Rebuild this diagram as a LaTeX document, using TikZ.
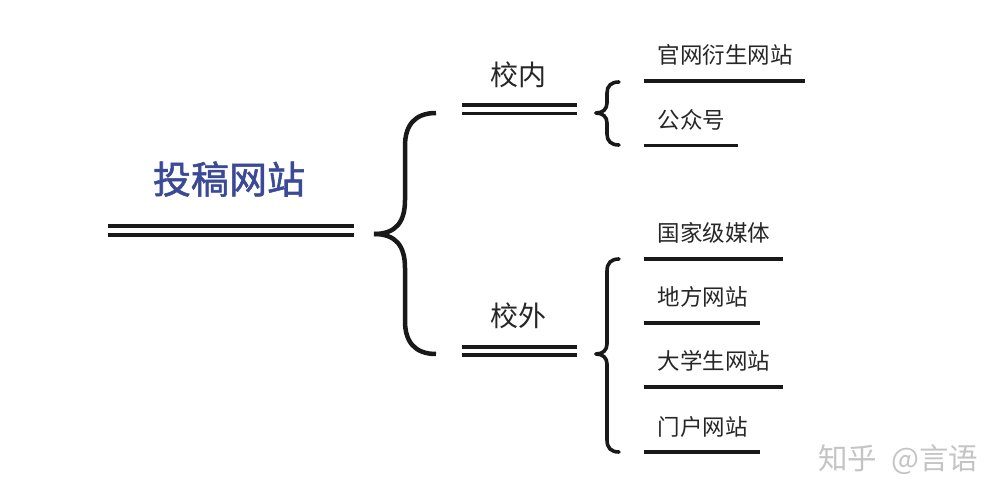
\documentclass[tikz,border=0pt]{standalone}
\usepackage{fontspec}
\setmainfont{Noto Sans CJK SC}
\newfontfamily\titlefont[FakeBold=1.4]{Noto Sans CJK SC}
\definecolor{titleblue}{HTML}{3A4A96}
\definecolor{markgray}{HTML}{C4C4C4}
\tikzset{
	leaftext/.style={anchor=west,inner sep=0pt,text=black!85,font=\fontsize{22.5}{24}\selectfont},
	midtext/.style={inner sep=0pt,text=black!85,font=\fontsize{28}{30}\selectfont},
	rulethick/.style={line width=3.2pt,black!90},
	bracethick/.style={line width=3.6pt,black!90,line cap=round},
}
\begin{document}
\begin{tikzpicture}[x=1pt,y=-1pt]
	\useasboundingbox (0,0) rectangle (999,500);
	% title
	\node[inner sep=0pt,text=titleblue,font=\fontsize{38}{40}\titlefont] (title) at (229,179) {投稿网站};
	\draw[line width=4pt,black!90] (108,225.5) -- (354,225.5);
	\draw[line width=4pt,black!90] (108,235) -- (354,235);
	% big brace
	\coordinate (bigtip) at (374,234);
	\coordinate (bigtop) at (436,113);
	\coordinate (bigbot) at (436,354);
	\draw[line width=4.5pt,black!90] (bigtop) .. controls (415,113) and (405,125) .. (405,146)
		-- (405,200) .. controls (405,222) and (396,234) .. (bigtip);
	\draw[line width=4.5pt,black!90] (bigbot) .. controls (415,354) and (405,342) .. (405,321)
		-- (405,268) .. controls (405,246) and (396,234) .. (bigtip);
	% upper branch
	\node[midtext] (inner) at (518.5,75) {校内};
	\draw[rulethick] (462,105) -- (577,105);
	\draw[rulethick] (462,113.5) -- (577,113.5);
	\coordinate (uptip) at (596,113);
	\coordinate (uptop) at (619,82);
	\coordinate (upbot) at (619,145);
	\draw[bracethick] (uptop) .. controls (611,82) and (607,86) .. (607,93)
		-- (607,103) .. controls (607,109) and (603,113) .. (uptip);
	\draw[bracethick] (upbot) .. controls (611,145) and (607,141) .. (607,134)
		-- (607,123) .. controls (607,117) and (603,113) .. (uptip);
	% lower branch
	\node[midtext] (outer) at (518.5,316) {校外};
	\draw[rulethick] (462,347) -- (577,347);
	\draw[rulethick] (462,355) -- (577,355);
	\coordinate (lowtip) at (596,354);
	\coordinate (lowtop) at (619,259);
	\coordinate (lowbot) at (619,452);
	\draw[bracethick] (lowtop) .. controls (611,259) and (607,263) .. (607,271)
		-- (607,344) .. controls (607,350) and (603,354) .. (lowtip);
	\draw[bracethick] (lowbot) .. controls (611,452) and (607,448) .. (607,440)
		-- (607,364) .. controls (607,358) and (603,354) .. (lowtip);
	% leaves
	\node[leaftext] (site) at (657.5,55) {官网衍生网站};
	\draw[rulethick] (644,81) -- (805,81);
	\node[leaftext] (wechat) at (657.5,120) {公众号};
	\draw[rulethick] (644,145.5) -- (738,145.5);
	\node[leaftext] (national) at (657.5,233) {国家级媒体};
	\draw[rulethick] (644,259) -- (783,259);
	\node[leaftext] (local) at (657.5,297) {地方网站};
	\draw[rulethick] (644,323) -- (760,323);
	\node[leaftext] (student) at (657.5,361) {大学生网站};
	\draw[rulethick] (644,387) -- (783,387);
	\node[leaftext] (portal) at (657.5,427) {门户网站};
	\draw[rulethick] (644,452) -- (760,452);
	% mark
	\node[inner sep=0pt,anchor=west,text=markgray,font=\fontsize{29.5}{30}\selectfont] (mark) at (818,460) {知乎\hspace{14pt}@言语};
\end{tikzpicture}
\end{document}
